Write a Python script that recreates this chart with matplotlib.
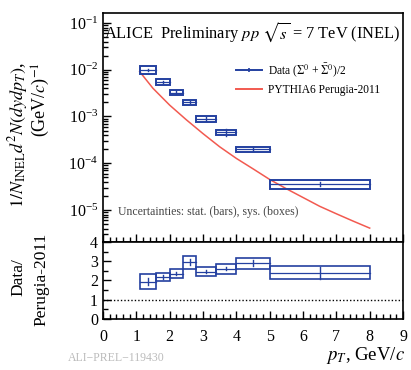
import matplotlib
matplotlib.use("Agg")
import matplotlib.pyplot as plt
from matplotlib.patches import Rectangle
from matplotlib.lines import Line2D
from matplotlib.ticker import MultipleLocator, LogLocator, NullFormatter

plt.rcParams['font.family'] = ['Liberation Serif', 'DejaVu Serif']
plt.rcParams['mathtext.fontset'] = 'stix'

# Sigma0 spectrum, pp 7 TeV
pt_edges = [1.1, 1.6, 2.0, 2.4, 2.8, 3.4, 4.0, 5.0, 8.0]
yields = [9.9e-3, 5.5e-3, 3.26e-3, 2.04e-3, 8.9e-4, 4.6e-4, 2.0e-4, 3.6e-5]
stat_rel = [0.05, 0.05, 0.06, 0.07, 0.08, 0.18, 0.10, 0.10]
sys_rel = [0.20, 0.15, 0.13, 0.13, 0.13, 0.13, 0.13, 0.20]

# PYTHIA6 Perugia-2011 curve
pythia_pt = [1.1, 1.5, 2.0, 2.5, 3.0, 3.5, 4.0, 4.5, 5.0, 5.5, 6.0, 6.5, 7.0, 7.5, 8.0]
pythia_y = [9.1e-3, 4.0e-3, 1.75e-3, 8.5e-4, 4.3e-4, 2.25e-4, 1.27e-4, 7.6e-5,
            4.5e-5, 2.85e-5, 1.85e-5, 1.2e-5, 8.3e-6, 5.8e-6, 4.1e-6]

# Data / Perugia-2011
ratio = [1.94, 2.18, 2.36, 2.94, 2.46, 2.60, 2.89, 2.40]
ratio_stat = [0.20, 0.10, 0.10, 0.15, 0.06, 0.08, 0.15, 0.30]
ratio_sys = [0.40, 0.21, 0.22, 0.33, 0.22, 0.25, 0.29, 0.35]

blue = '#2440a0'
red = '#f25a50'

fig = plt.figure(figsize=(4.11, 3.70), dpi=100)
ax = fig.add_axes([0.2506, 0.346, 0.73, 0.619])
axr = fig.add_axes([0.2506, 0.138, 0.73, 0.208], sharex=ax)

lo = pt_edges[:-1]
hi = pt_edges[1:]

# spectrum: sys boxes, centre line, stat bars
for a, b, y, s, st in zip(lo, hi, yields, sys_rel, stat_rel):
    ax.add_patch(Rectangle((a, y * (1 - s)), b - a, y * 2 * s, fill=False,
                           edgecolor=blue, lw=1.4, zorder=3))
    ax.plot([a, b], [y, y], color=blue, lw=0.9, zorder=3)
    c = (a + b) / 2
    ax.plot([c, c], [y * (1 - st), y * (1 + st)], color=blue, lw=1.0, zorder=3)
ax.plot(pythia_pt, pythia_y, color=red, lw=1.1, zorder=2)

ax.set_yscale('log')
ax.set_xlim(0, 9)
ax.set_ylim(2.07e-6, 0.164)

ax.text(0.005, 0.913, r'ALICE  Preliminary $pp$ $\sqrt{s}$ = 7 TeV (INEL)',
        transform=ax.transAxes, fontsize=11.8, va='center', ha='left')
ax.text(0.05, 0.131, 'Uncertainties: stat. (bars), sys. (boxes)',
        transform=ax.transAxes, fontsize=8.5, color='#444444', va='center')

handles = [Line2D([], [], color=blue, lw=1.4, marker='|', ms=3, mew=1.2),
           Line2D([], [], color=red, lw=1.4)]
ax.legend(handles, [r'Data ($\Sigma^{0}$ + $\bar{\Sigma}^{0}$)/2', 'PYTHIA6 Perugia-2011'],
          loc='upper left', bbox_to_anchor=(0.41, 0.835), frameon=False,
          fontsize=8.3, handlelength=2.2, handletextpad=0.5, labelspacing=0.45)

# ratio panel
for a, b, r, s, st in zip(lo, hi, ratio, ratio_sys, ratio_stat):
    axr.add_patch(Rectangle((a, r - s), b - a, 2 * s, fill=False,
                            edgecolor=blue, lw=1.2, zorder=3))
    axr.plot([a, b], [r, r], color=blue, lw=0.9, zorder=3)
    c = (a + b) / 2
    axr.plot([c, c], [r - st, r + st], color=blue, lw=1.0, zorder=3)
axr.axhline(1, color='black', lw=1.0, ls=(0, (1, 1.5)))
axr.set_ylim(0, 4)
axr.set_yticks([0, 1, 2, 3, 4])
axr.yaxis.set_minor_locator(MultipleLocator(0.5))
axr.set_xticks(range(10))
axr.xaxis.set_minor_locator(MultipleLocator(0.2))

ax.yaxis.set_major_locator(LogLocator(base=10, numticks=10))
ax.yaxis.set_minor_locator(LogLocator(base=10, subs=range(2, 10), numticks=20))
ax.yaxis.set_minor_formatter(NullFormatter())
ax.tick_params(axis='x', labelbottom=False)

for a_ in (ax, axr):
    a_.tick_params(which='both', direction='in', top=False, right=False,
                   labelsize=11.5, width=1.0)
    a_.tick_params(which='major', length=6)
    a_.tick_params(which='minor', length=3.5)
    for sp in a_.spines.values():
        sp.set_linewidth(1.2)
axr.tick_params(axis='x', pad=7)

fig.text(0.045, 0.635, r'$1/N_{\rm INEL}d^{2}N(dydp_{T})$,', rotation=90,
         fontsize=13, ha='center', va='center')
fig.text(0.1, 0.73, r'(GeV/$c$)$^{-1}$', rotation=90,
         fontsize=13, ha='center', va='center')
fig.text(0.045, 0.25, 'Data/', rotation=90, fontsize=12.5, ha='center', va='center')
fig.text(0.1, 0.245, 'Perugia-2011', rotation=90, fontsize=12.5, ha='center', va='center')

fig.text(0.985, 0.04, r'$p_{T}$, GeV/$c$', fontsize=13.5, ha='right', va='center')
fig.text(0.165, 0.032, 'ALI−PREL−119430', fontsize=8.5, color='#bbbbbb', va='center')

fig.savefig('out.png', dpi=100)
